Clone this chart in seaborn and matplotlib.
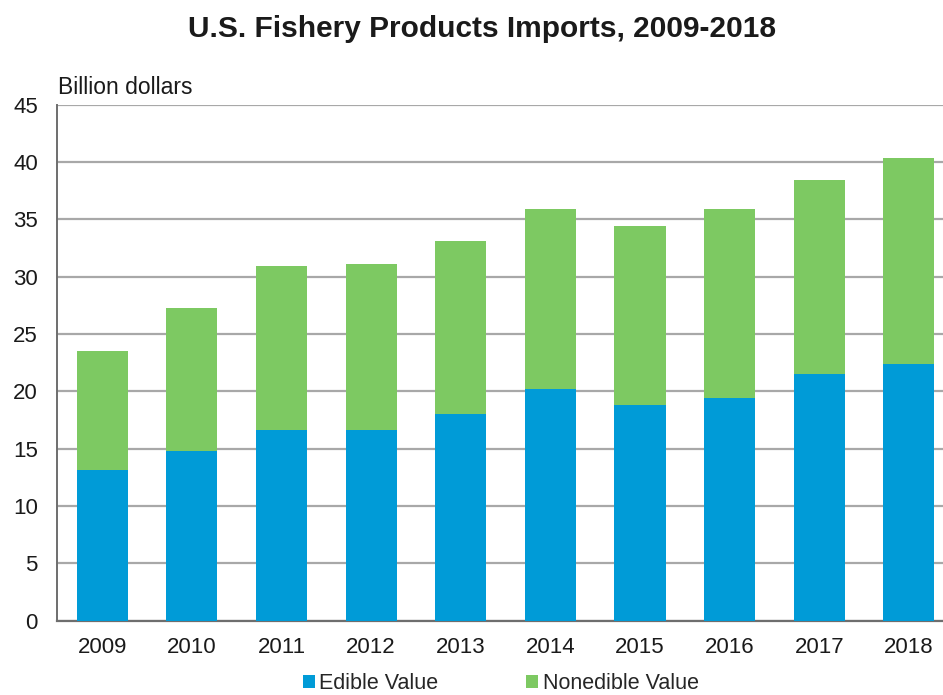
import matplotlib
matplotlib.use("Agg")
import matplotlib.pyplot as plt
from matplotlib.patches import Patch
import seaborn as sns
import pandas as pd

years = ["2009", "2010", "2011", "2012", "2013", "2014", "2015", "2016", "2017", "2018"]
edible = [13.1, 14.8, 16.6, 16.6, 18.0, 20.2, 18.8, 19.4, 21.5, 22.4]
nonedible = [10.4, 12.5, 14.3, 14.5, 15.1, 15.7, 15.6, 16.5, 16.9, 17.9]

BLUE = "#009BD7"
GREEN = "#7DC962"
GRID = "#A8A8A8"

sns.set_theme(style="white")
plt.rcParams["font.family"] = ["Liberation Sans", "DejaVu Sans"]

df = pd.DataFrame({"year": years, "edible": edible, "nonedible": nonedible})
df["total"] = df["edible"] + df["nonedible"]

fig = plt.figure(figsize=(9.43, 6.95), dpi=100)
ax = fig.add_axes([0.0608, 0.1069, 0.9506, 0.7427])

# stacked bars: total (green) underneath, edible (blue) drawn over it
sns.barplot(data=df, x="year", y="total", color=GREEN, width=0.57,
            saturation=1, linewidth=0, ax=ax, zorder=3)
sns.barplot(data=df, x="year", y="edible", color=BLUE, width=0.57,
            saturation=1, linewidth=0, ax=ax, zorder=4)

ax.set_xlim(-0.5, 9.5)
ax.set_ylim(0, 45)
ax.set_yticks(range(0, 46, 5))
ax.yaxis.grid(True, color=GRID, linewidth=1.6, zorder=0)
ax.set_axisbelow(True)
ax.set_xlabel("")
ax.set_ylabel("")
for side in ("top", "right"):
    ax.spines[side].set_visible(False)
ax.spines["left"].set_color("#6E6E6E")
ax.spines["left"].set_linewidth(1.4)
ax.spines["bottom"].set_color("#6E6E6E")
ax.spines["bottom"].set_linewidth(1.6)
ax.tick_params(axis="both", length=0, labelsize=16, colors="#1A1A1A")
ax.tick_params(axis="y", pad=14)
ax.tick_params(axis="x", pad=12)

fig.text(0.511, 0.958, "U.S. Fishery Products Imports, 2009-2018",
         ha="center", va="center", fontsize=21.5, fontweight="bold", color="#1A1A1A")
fig.text(0.061, 0.874, "Billion dollars", ha="left", va="center",
         fontsize=16.5, color="#1A1A1A")

handles = [Patch(facecolor=BLUE, edgecolor="none", label="Edible Value"),
           Patch(facecolor=GREEN, edgecolor="none", label="Nonedible Value")]
fig.legend(handles=handles, loc="center", bbox_to_anchor=(0.531, 0.016),
           ncol=2, frameon=False, fontsize=15.5, handlelength=0.55,
           handleheight=0.55, handletextpad=0.2, columnspacing=4.1,
           borderpad=0.1)

fig.savefig("out.png", dpi=100)
